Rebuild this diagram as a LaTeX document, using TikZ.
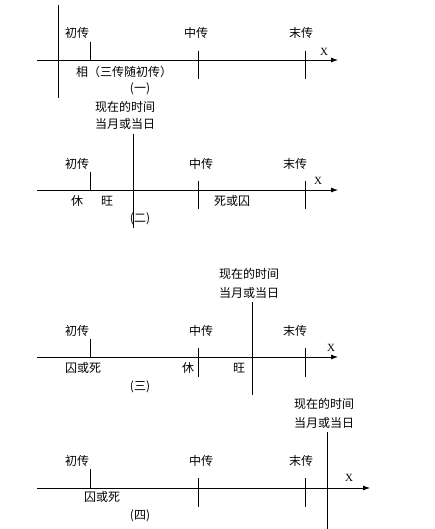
\documentclass[tikz,border=0pt]{standalone}
\usepackage{fontspec}
\setmainfont{Liberation Serif}
\newfontfamily\cjk{Noto Sans CJK SC}
\usetikzlibrary{arrows.meta}
\tikzset{
	axisline/.style={
			line width=0.8pt, -{Latex[length=7pt,width=5pt]}
		},
	tickmark/.style={line width=0.8pt},
	lbl/.style={inner sep=0pt, font=\cjk\fontsize{12}{14}\selectfont},
	xlbl/.style={inner sep=0pt, font=\rmfamily\fontsize{11}{13}\selectfont}
}

\begin{document}
\begin{tikzpicture}[x=1pt, y=-1pt]

			\useasboundingbox (0,0) rectangle (435,529);

			% Panel one
			\coordinate (a1l) at (37,60);
			\coordinate (a1r) at (338,60);
			\draw[axisline] (a1l) -- (a1r);
			\coordinate (v1t) at (58,5);
			\coordinate (v1b) at (58,98);
			\draw[tickmark] (v1t) -- (v1b);
			\coordinate (t1a) at (90,42);
			\draw[tickmark] (t1a) -- (t1a |- a1l);
			\coordinate (t1b) at (198,51);
			\draw[tickmark] (t1b) -- ++(0,28);
			\coordinate (t1c) at (305,51);
			\draw[tickmark] (t1c) -- ++(0,28);
			\node[lbl] (chu1) at (77,33) {初传};
			\node[lbl] (zhong1) at (196,33) {中传};
			\node[lbl] (mo1) at (301,33) {末传};
			\node[xlbl] (x1) at (324,52) {X};
			\node[lbl] (xiang1) at (124,72) {相（三传随初传）};
			\node[lbl] (cap1) at (140,89) {(一)};

			% Panel two
			\node[lbl] (now2) at (125,107) {现在的时间};
			\node[lbl] (day2) at (125,124) {当月或当日};
			\coordinate (a2l) at (37,190);
			\coordinate (a2r) at (338,190);
			\draw[axisline] (a2l) -- (a2r);
			\coordinate (v2t) at (133.5,134);
			\coordinate (v2b) at (133.5,228);
			\draw[tickmark] (v2t) -- (v2b);
			\coordinate (t2a) at (90,172);
			\draw[tickmark] (t2a) -- (t2a |- a2l);
			\coordinate (t2b) at (198,181);
			\draw[tickmark] (t2b) -- ++(0,28);
			\coordinate (t2c) at (305,181);
			\draw[tickmark] (t2c) -- ++(0,28);
			\node[lbl] (chu2) at (77,164) {初传};
			\node[lbl] (zhong2) at (201,164) {中传};
			\node[lbl] (mo2) at (295,164) {末传};
			\node[xlbl] (x2) at (318,181) {X};
			\node[lbl] (xiu2) at (77,201) {休};
			\node[lbl] (wang2) at (107,201) {旺};
			\node[lbl] (si2) at (232,201) {死或囚};
			\node[lbl] (cap2) at (140,219) {(二)};

			% Panel three
			\node[lbl] (now3) at (249,274) {现在的时间};
			\node[lbl] (day3) at (249,293) {当月或当日};
			\coordinate (a3l) at (37,357);
			\coordinate (a3r) at (338,357);
			\draw[axisline] (a3l) -- (a3r);
			\coordinate (v3t) at (252,302);
			\coordinate (v3b) at (252,395);
			\draw[tickmark] (v3t) -- (v3b);
			\coordinate (t3a) at (90,339);
			\draw[tickmark] (t3a) -- (t3a |- a3l);
			\coordinate (t3b) at (198,348);
			\draw[tickmark] (t3b) -- ++(0,29);
			\coordinate (t3c) at (305,348);
			\draw[tickmark] (t3c) -- ++(0,29);
			\node[lbl] (chu3) at (77,331) {初传};
			\node[lbl] (zhong3) at (201,331) {中传};
			\node[lbl] (mo3) at (295,331) {末传};
			\node[xlbl] (x3) at (331,348) {X};
			\node[lbl] (qiu3) at (83,368) {囚或死};
			\node[lbl] (xiu3) at (188,368) {休};
			\node[lbl] (wang3) at (239,368) {旺};
			\node[lbl] (cap3) at (140,387) {(三)};

			% Panel four
			\node[lbl] (now4) at (324,404) {现在的时间};
			\node[lbl] (day4) at (324,423) {当月或当日};
			\coordinate (a4l) at (37,488);
			\coordinate (a4r) at (370,488);
			\draw[axisline] (a4l) -- (a4r);
			\coordinate (v4t) at (327,432);
			\coordinate (v4b) at (327,529);
			\draw[tickmark] (v4t) -- (v4b);
			\coordinate (t4a) at (90,469);
			\draw[tickmark] (t4a) -- (t4a |- a4l);
			\coordinate (t4b) at (198,478);
			\draw[tickmark] (t4b) -- ++(0,29);
			\coordinate (t4c) at (305,478);
			\draw[tickmark] (t4c) -- ++(0,29);
			\node[lbl] (chu4) at (77,461) {初传};
			\node[lbl] (zhong4) at (201,461) {中传};
			\node[lbl] (mo4) at (301,461) {末传};
			\node[xlbl] (x4) at (349,478) {X};
			\node[lbl] (qiu4) at (102,497) {囚或死};
			\node[lbl] (cap4) at (140,516) {(四)};
		\end{tikzpicture}
\end{document}
